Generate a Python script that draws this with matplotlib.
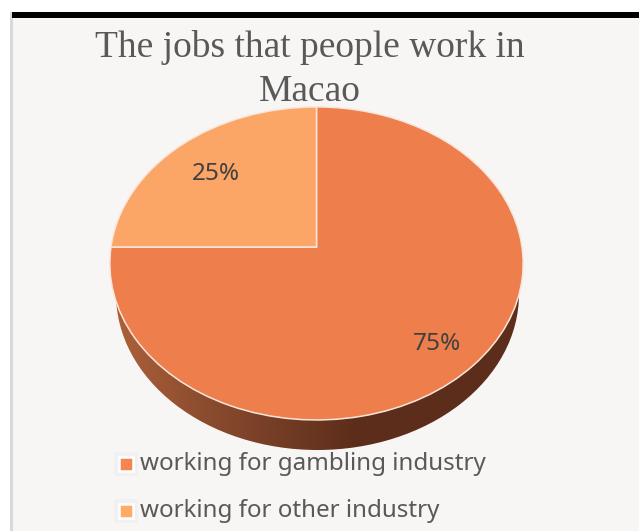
import numpy as np
import matplotlib
matplotlib.use("Agg")
import matplotlib.pyplot as plt
from matplotlib.colors import LinearSegmentedColormap
from matplotlib.patches import Ellipse, Rectangle
from matplotlib.transforms import Transform

title = "The jobs that people work in\nMacao"
categories = ["working for gambling industry", "working for other industry"]
shares = [75, 25]
colors = ["#EE7F4D", "#FBA666"]
legend_colors = ["#F58551", "#FFAB66"]

# pie centre sits above the middle of the ellipse, so tilt the unit pie
class Tilt(Transform):
    input_dims = 2
    output_dims = 2

    def transform_non_affine(self, xy):
        xy = np.asarray(xy, dtype=float)
        w = 1 + 0.105 * xy[:, 1]
        return np.column_stack((316.5 + 205.5 * xy[:, 0] / w, 247 - 154.8 * xy[:, 1] / w))


fig = plt.figure(figsize=(6.39, 5.31), dpi=100, facecolor="white")
ax = fig.add_axes([0, 0, 1, 1])

# panel
ax.add_patch(Rectangle((10, 12), 640, 530, fc="#F8F6F5", ec="none", zorder=0))
ax.add_patch(Rectangle((10, 12), 2.5, 530, fc="#D9D9D9", ec="none", zorder=1))
ax.add_patch(Rectangle((12, 12), 640, 6, fc="black", ec="none", zorder=2))

# side of the pie, dark brown gradient
side_cmap = LinearSegmentedColormap.from_list(
    "side", ["#AC6039", "#8E4E30", "#743D25", "#5C2D1B", "#5C2D1B", "#5C2D1B"])
grad = np.linspace(0, 1, 256).reshape(1, -1)
side = Ellipse((317.5, 294), 403, 312, fc="none", ec="none", transform=ax.transData)
ax.add_patch(side)
im = ax.imshow(grad, cmap=side_cmap, extent=(116, 519, 460, 250), aspect="auto", zorder=3)
im.set_clip_path(side)

wedges, _, pcts = ax.pie(shares, colors=colors, startangle=90, counterclock=False,
                         autopct="%d%%", radius=1,
                         wedgeprops=dict(edgecolor="#F8E6DC", linewidth=1.1, zorder=4),
                         textprops=dict(family="Noto Sans", fontsize=17.5, color="#404040", zorder=5))
tilt = Tilt() + ax.transData
for w in wedges:
    w.set_transform(tilt)
pct_pos = [(0.55, -0.59), (-0.515, 0.495)]
for t, p in zip(pcts, pct_pos):
    t.set_position(p)
    t.set_transform(tilt)

ax.set_aspect("auto")
ax.set_xlim(0, 639)
ax.set_ylim(531, 0)
ax.axis("off")

ax.text(310, 69.5, title, family="Liberation Serif", fontsize=27, color="#595959",
        ha="center", va="center", linespacing=1.34, zorder=6)

# legend
leg_y = [464, 511]
for name, c, y in zip(categories, legend_colors, leg_y):
    ax.add_patch(Rectangle((114, y - 12), 24, 24, fc="#F1F1F1", ec="none", zorder=5))
    ax.add_patch(Rectangle((119, y - 7), 14, 14, fc=c, ec="white", lw=1.8, zorder=6))
    ax.text(139.5, y, name, family="Noto Sans", fontsize=17.4, color="#595959",
            ha="left", va="center", zorder=6)

fig.savefig("out.png", dpi=100)
